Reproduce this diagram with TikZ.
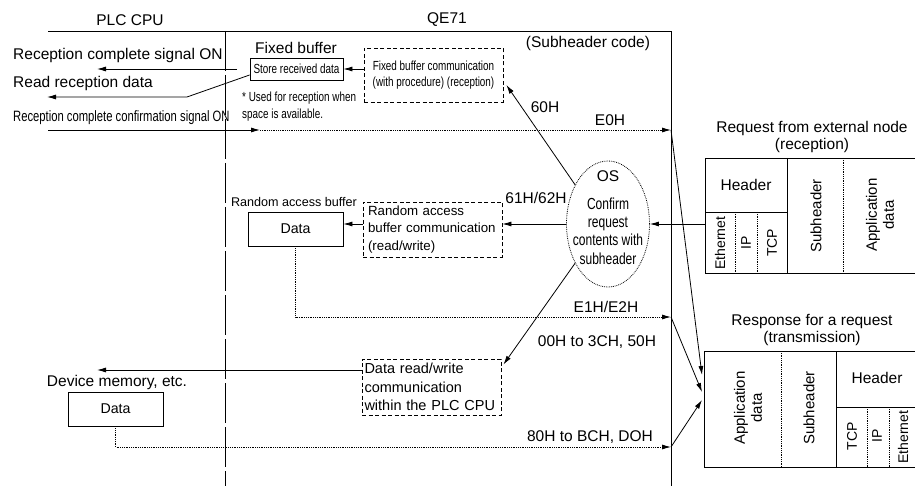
\documentclass[tikz,border=0pt]{standalone}
\usepackage{fontspec}
\setmainfont{Liberation Sans}
\newfontfamily\condf[FakeStretch=0.75]{Liberation Sans}
\usetikzlibrary{arrows.meta,shapes.geometric,calc}
\tikzset{
  big/.style={font=\fontsize{15.5}{17}\selectfont, inner sep=0pt},
  rabf/.style={font=\fontsize{12.6}{15}\selectfont, inner sep=0pt},
  mid/.style={font=\fontsize{13.3}{17.5}\selectfont, inner sep=0pt},
  drwf/.style={font=\fontsize{14.5}{18.5}\selectfont, inner sep=0pt},
  sml/.style={font=\condf\fontsize{13.2}{16.5}\selectfont, inner sep=0pt},
  ell/.style={font=\condf\fontsize{16}{18.3}\selectfont, inner sep=0pt},
  rot/.style={font=\fontsize{15}{17}\selectfont, inner sep=0pt, rotate=90},
  rots/.style={font=\fontsize{14}{17}\selectfont, inner sep=0pt, rotate=90},
  solidbox/.style={draw, line width=0.8pt, inner sep=0pt},
  dbox/.style={draw, dash pattern=on 4pt off 2.5pt, line width=0.8pt, inner sep=0pt},
  arr/.style={-{Latex[length=9pt,width=5pt]}, line width=0.8pt},
  dotarr/.style={arr, densely dotted},
  ln/.style={line width=0.8pt},
  dotln/.style={line width=0.8pt, densely dotted},
}
\begin{document}
\begin{tikzpicture}[x=1pt,y=-1pt]
\useasboundingbox (0,0) rectangle (915,486);

% frame
\node[big] (plc) at (130,20) {PLC CPU};
\node[big] (qe) at (447,20) {QE71};
\coordinate (tl) at (48,31);
\coordinate (tr) at (671,31);
\coordinate (br) at (671,486);
\draw[ln] (tl) -- (tr) -- (br);
\coordinate (dvt) at (225,31);
\coordinate (dvb) at (225,486);
\draw[ln, dash pattern=on 40pt off 4pt] (dvt) -- (dvb);

% fixed buffer part
\node[big, anchor=west] (recsig) at (13,55) {Reception complete signal ON};
\node[big, anchor=west] (readrec) at (13,83) {Read reception data};
\node[big] (fixbuf) at (296,48) {Fixed buffer};
\node[solidbox, sml, minimum width=93pt, minimum height=22pt] (store) at (296.5,69) {Store received data};
\coordinate (a1s) at (237,69);
\coordinate (a1e) at (97,69);
\draw[arr] (a1s) -- (a1e);
\coordinate (a2m) at (187,97);
\coordinate (a2e) at (47,97);
\draw[ln, arr] ([yshift=-6pt]store.west) -- (a2m) -- (a2e);
\node[sml, anchor=west, align=left] (note) at (242,106.5) {* Used for reception when\\space is available.};
\node[dbox, sml, minimum width=139pt, minimum height=54pt, align=center] (fbcomm) at (433.5,75) {Fixed buffer communication\\(with procedure) (reception)};
\draw[arr] (fbcomm.west |- store.east) -- (store.east);
\node[big] (shc) at (588,43) {(Subheader code)};

\node[font=\condf\fontsize{15}{17}\selectfont, inner sep=0pt, anchor=west] (conf) at (13,118) {Reception complete confirmation signal ON};
\coordinate (e0a) at (48,130);
\coordinate (e0b) at (260,130);
\coordinate (e0c) at (671,130);
\draw[arr] (e0a) -- (e0b);
\draw[dotarr] (e0b) -- (e0c);
\node[big] (e0h) at (610,120) {E0H};

% OS
\node[ellipse, draw, densely dotted, line width=0.8pt, minimum width=83pt, minimum height=126pt, inner sep=0pt] (os) at (608,224) {};
\node[big] (ostxt) at (608,176) {OS};
\node[ell, align=center] (conftxt) at (608,231) {Confirm\\request\\contents with\\subheader};
\node[big] (h60) at (545,107) {60H};
\draw[arr] (os.130) -- ([xshift=3pt,yshift=-10pt]fbcomm.east);

% random access buffer
\node[rabf] (rablbl) at (294,202) {Random access buffer};
\node[solidbox, font=\fontsize{14.2}{17}\selectfont, minimum width=95pt, minimum height=34pt] (data1) at (295.5,229) {Data};
\node[dbox, mid, minimum width=139pt, minimum height=55pt, align=left, text width=129pt] (racomm) at (432.5,229.5) {Random access\\buffer communication\\(read/write)};
\draw[arr] (os.west) -- (os.west -| racomm.east);
\draw[arr] (racomm.west |- os.west) -- (data1.east |- os.west);
\node[big] (h61) at (536,198) {61H/62H};

\coordinate (e1) at (671,317);
\draw[dotarr] (data1.south) -- (data1.south |- e1) -- (e1);
\node[big] (e1h) at (606,307) {E1H/E2H};

% data read/write
\node[big] (h00) at (597,342) {00H to 3CH, 50H};
\node[dbox, drwf, minimum width=139pt, minimum height=56pt, align=left, text width=134pt] (drw) at (431.5,387) {Data read/write\\communication\\within the PLC CPU};
\draw[arr] (os.230) -- ([xshift=2pt,yshift=-6pt]drw.north east);
\coordinate (dme) at (97,370);
\draw[arr] (drw.west |- dme) -- (dme);
\node[big] (devmem) at (117,382) {Device memory, etc.};
\node[solidbox, font=\fontsize{14.2}{17}\selectfont, minimum width=95pt, minimum height=34pt] (data2) at (115.5,409) {Data};
\coordinate (d2e) at (671,447);
\draw[dotarr] (data2.south) -- (data2.south |- d2e) -- (d2e);
\node[big] (h80) at (590,437) {80H to BCH, DOH};

% request box
\node[big, align=center] (rqlbl) at (812,137) {Request from external node\\(reception)};
\draw[ln] (915,158) -- (705,158) -- (705,273) -- (915,273);
\draw[ln] (705,212) -- (787,212);
\draw[ln] (787,158) -- (787,273);
\draw[dotln] (735,212) -- (735,273);
\draw[dotln] (757,212) -- (757,273);
\draw[dotln] (843,158) -- (843,273);
\node[big] (rqhdr) at (746,185) {Header};
\node[rots] (rqeth) at (720,243) {Ethernet};
\node[rots] (rqip) at (746,243) {IP};
\node[rots] (rqtcp) at (772,243) {TCP};
\node[rot] (rqsub) at (816,216) {Subheader};
\node[rot, align=center] (rqapp) at (880,215) {Application\\data};
\coordinate (rqL) at (705,224);
\draw[arr] (rqL) -- (os.east);

% response box
\node[big, align=center] (rslbl) at (812,330) {Response for a request\\(transmission)};
\draw[ln] (915,351) -- (704,351) -- (704,467) -- (915,467);
\draw[dotln] (781,351) -- (781,467);
\draw[ln] (836,351) -- (836,467);
\draw[ln] (836,407) -- (915,407);
\draw[dotln] (867,407) -- (867,467);
\draw[dotln] (889,407) -- (889,467);
\node[rot, align=center] (rsapp) at (748,408) {Application\\data};
\node[rot] (rssub) at (809,408) {Subheader};
\node[big] (rshdr) at (877,378) {Header};
\node[rots] (rstcp) at (852,436) {TCP};
\node[rots] (rsip) at (877,436) {IP};
\node[rots] (rseth) at (903,437) {Ethernet};

\coordinate (rs1) at (702,375);
\coordinate (rs2) at (702,392);
\coordinate (rs3) at (702,400);
\draw[arr] (e0c) -- (rs1);
\draw[arr] (e1) -- (rs2);
\draw[arr] (d2e) -- (rs3);
\end{tikzpicture}
\end{document}
